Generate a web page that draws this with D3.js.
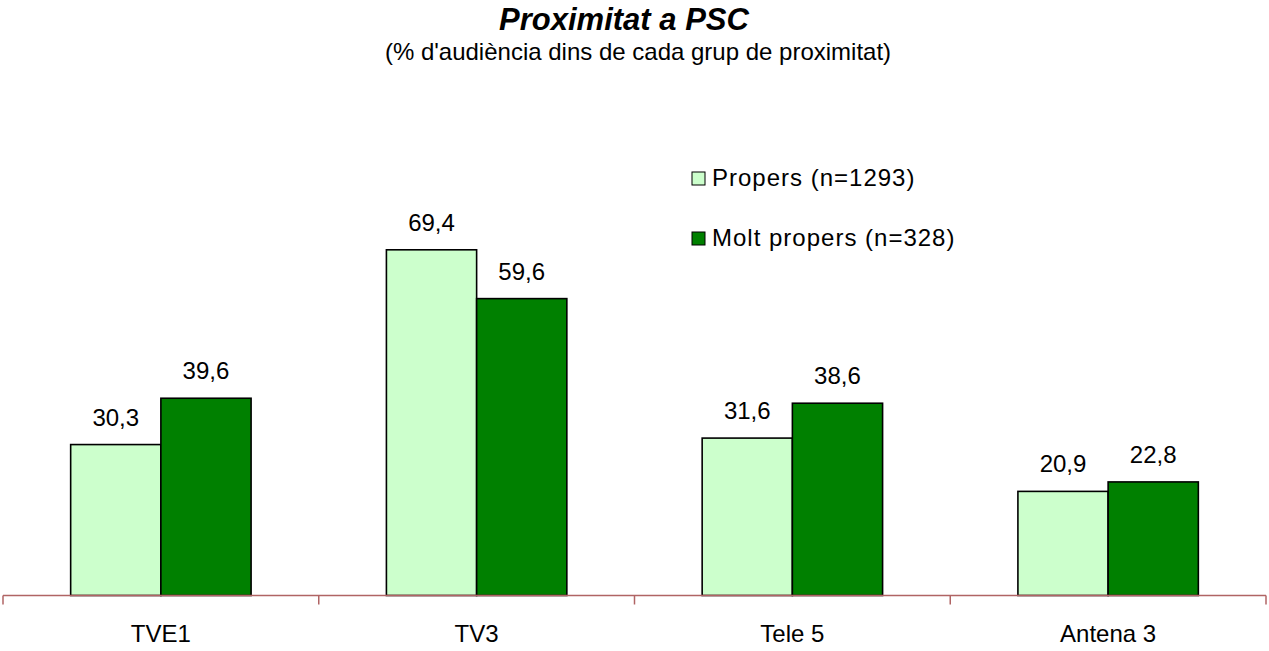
<!DOCTYPE html>
<html>
<head>
<meta charset="utf-8">
<script src="https://cdn.jsdelivr.net/npm/d3@7"></script>
<style>
  body { margin: 0; background: #fff; }
  svg { display: block; font-family: "Liberation Sans", Arial, sans-serif; }
</style>
</head>
<body>
<div id="chart"></div>
<script>
// chart data
const categories = ["TVE1", "TV3", "Tele 5", "Antena 3"];
const seriesNames = ["Propers (n=1293)", "Molt propers (n=328)"];
const propers = [30.3, 69.4, 31.6, 20.9];
const moltPropers = [39.6, 59.6, 38.6, 22.8];
const colors = ["#ccffcc", "#008000"];

const width = 1269;
const height = 651;
const margin = { top: 197, right: 3, bottom: 55, left: 3 };

const svg = d3.select("#chart")
  .append("svg")
  .attr("width", width)
  .attr("height", height);

// titles
svg.append("text")
  .attr("x", 624)
  .attr("y", 30)
  .attr("text-anchor", "middle")
  .style("font-size", "31px")
  .style("font-weight", "bold")
  .style("font-style", "italic")
  .text("Proximitat a PSC");

svg.append("text")
  .attr("x", 638)
  .attr("y", 60)
  .attr("text-anchor", "middle")
  .style("font-size", "24px")
  .text("(% d'audiència dins de cada grup de proximitat)");

const x = d3.scaleBand()
  .domain(categories)
  .range([margin.left, width - margin.right]);

const x1 = d3.scaleBand()
  .domain([0, 1])
  .range([0, x.bandwidth()])
  .paddingInner(0)
  .paddingOuter(0.75);

const y = d3.scaleLinear()
  .domain([0, 80])
  .range([height - margin.bottom - 0.5, margin.top]);

const rows = categories.map((c, i) => ({ cat: c, vals: [propers[i], moltPropers[i]] }));

const groups = svg.append("g")
  .selectAll("g")
  .data(rows)
  .join("g")
  .attr("transform", (d) => `translate(${x(d.cat)},0)`);

groups.selectAll("rect")
  .data((d) => d.vals.map((v, j) => ({ v, j })))
  .join("rect")
  .attr("x", (d) => x1(d.j))
  .attr("y", (d) => y(d.v))
  .attr("width", x1.bandwidth())
  .attr("height", (d) => y(0) - y(d.v))
  .attr("fill", (d) => colors[d.j])
  .attr("stroke", "#000")
  .attr("stroke-width", 1.6);

groups.selectAll("text.val")
  .data((d) => d.vals.map((v, j) => ({ v, j })))
  .join("text")
  .attr("class", "val")
  .attr("x", (d) => x1(d.j) + x1.bandwidth() / 2)
  .attr("y", (d) => y(d.v) - 19)
  .attr("text-anchor", "middle")
  .style("font-size", "24px")
  .text((d) => d3.format(".1f")(d.v).replace(".", ","));

// category axis
const axis = svg.append("g")
  .attr("transform", `translate(0,${y(0)})`)
  .call(d3.axisBottom(x).tickSize(0).tickPadding(0));

axis.select(".domain").remove();
axis.selectAll(".tick text").remove();

axis.append("line")
  .attr("x1", margin.left)
  .attr("x2", width - margin.right)
  .attr("stroke", "#b06464")
  .attr("stroke-width", 1.5);

const edges = categories.map((c) => x(c)).concat([width - margin.right]);
axis.selectAll("line.edge")
  .data(edges)
  .join("line")
  .attr("class", "edge")
  .attr("x1", (d) => d)
  .attr("x2", (d) => d)
  .attr("y1", 0)
  .attr("y2", 9)
  .attr("stroke", "#b06464")
  .attr("stroke-width", 1.5);

axis.selectAll("text.cat")
  .data(categories)
  .join("text")
  .attr("class", "cat")
  .attr("x", (d) => x(d) + x.bandwidth() / 2)
  .attr("y", 46)
  .attr("text-anchor", "middle")
  .attr("fill", "#000")
  .style("font-size", "24px")
  .text((d) => d);

// legend
const legend = svg.append("g")
  .selectAll("g")
  .data(seriesNames)
  .join("g")
  .attr("transform", (d, i) => `translate(692,${172 + i * 60})`);

legend.append("rect")
  .attr("width", 13)
  .attr("height", 13)
  .attr("fill", (d, i) => colors[i])
  .attr("stroke", "#000")
  .attr("stroke-width", 1);

legend.append("text")
  .attr("x", 20)
  .attr("y", 14)
  .style("font-size", "24px")
  .style("letter-spacing", "1px")
  .text((d) => d);
</script>
</body>
</html>
